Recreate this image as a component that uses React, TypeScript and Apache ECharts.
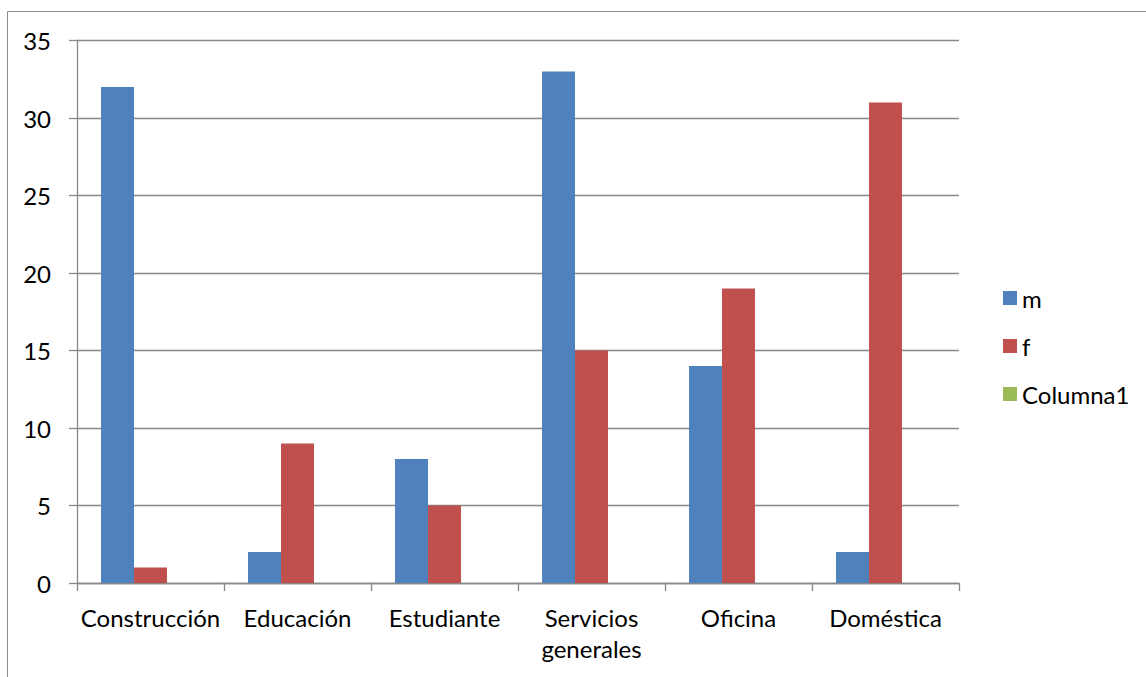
import React, { useEffect, useRef } from "react";
import * as echarts from "echarts";

const categories = [
  "Construcción",
  "Educación",
  "Estudiante",
  "Servicios\ngenerales",
  "Oficina",
  "Doméstica",
];
const seriesNames = ["m", "f", "Columna1"];
const mValues = [32, 2, 8, 33, 14, 2];
const fValues = [1, 9, 5, 15, 19, 31];
const columna1Values: (number | null)[] = [null, null, null, null, null, null];
const colors = ["#4F81BD", "#C0504D", "#9BBB59"];

const FONT = "Lato, 'Liberation Sans', sans-serif";
const FONT_SIZE = 24;
const GRID_COLOR = "#888888";

export default function App() {
  const ref = useRef<HTMLDivElement>(null);

  useEffect(() => {
    if (!ref.current) return;
    const chart = echarts.init(ref.current, undefined, { renderer: "svg" });
    const values = [mValues, fValues, columna1Values];
    chart.setOption({
      animation: false,
      backgroundColor: "#ffffff",
      textStyle: { fontFamily: FONT },
      graphic: [
        {
          type: "rect",
          shape: { x: 7.5, y: 11.5, width: 1300, height: 900 },
          style: { fill: "none", stroke: "#8c8c8c", lineWidth: 1 },
          silent: true,
        },
      ],
      grid: { left: 77, right: 187, top: 40.5, bottom: 94, containLabel: false },
      legend: {
        orient: "vertical",
        left: 998,
        top: 281,
        itemWidth: 14,
        itemHeight: 14,
        itemGap: 24,
        itemTextGap: 4,
        icon: "rect",
        data: seriesNames,
        textStyle: { fontSize: FONT_SIZE, color: "#000", fontFamily: FONT, lineHeight: 24 },
      },
      xAxis: {
        type: "category",
        data: categories,
        axisLine: { show: true, lineStyle: { color: GRID_COLOR, width: 1.3 } },
        axisTick: { show: true, length: 8, interval: 0, alignWithLabel: false, lineStyle: { color: GRID_COLOR, width: 1.3 } },
        axisLabel: {
          interval: 0,
          margin: 19,
          fontSize: FONT_SIZE,
          lineHeight: 31,
          color: "#000",
          fontFamily: FONT,
        },
      },
      yAxis: {
        type: "value",
        min: 0,
        max: 35,
        interval: 5,
        axisLine: { show: true, lineStyle: { color: GRID_COLOR, width: 1.3 } },
        axisTick: { show: true, length: 8, lineStyle: { color: GRID_COLOR, width: 1.3 } },
        splitLine: { show: true, lineStyle: { color: GRID_COLOR, width: 1.3 } },
        axisLabel: { margin: 26, fontSize: FONT_SIZE, color: "#000", fontFamily: FONT },
      },
      series: seriesNames.map((name, i) => ({
        name,
        type: "bar",
        data: values[i],
        barGap: "0%",
        barCategoryGap: "32.7%",
        itemStyle: { color: colors[i] },
      })),
    });
    return () => chart.dispose();
  }, []);

  return (
    <div
      ref={ref}
      style={{ position: "fixed", left: 0, top: 0, width: 1146, height: 677 }}
    />
  );
}
